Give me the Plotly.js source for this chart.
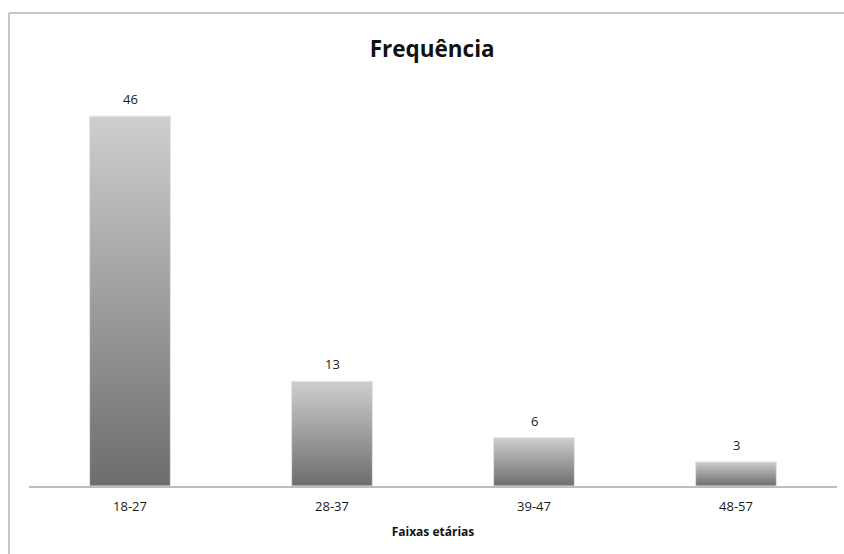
<!DOCTYPE html>
<html>
<head>
<meta charset="utf-8">
<script src="https://cdn.plot.ly/plotly-3.0.1.min.js"></script>
<style>
html,body{margin:0;padding:0;background:#fff;}
#chart{width:844px;height:554px;}
</style>
</head>
<body>
<div id="chart"></div>
<script>
const categories = ["18-27", "28-37", "39-47", "48-57"];
const frequencia = [46, 13, 6, 3];
const chartTitle = "Frequência";
const xTitle = "Faixas etárias";

const FONT = "'Open Sans', 'DejaVu Sans', sans-serif";

const trace = {
  type: "bar",
  x: categories,
  y: frequencia,
  width: 0.4,
  marker: {color: "#9a9a9a", line: {color: "#e4e4e4", width: 1}},
  hoverinfo: "none"
};

const annotations = categories.map((c, i) => ({
  x: c, y: frequencia[i], xref: "x", yref: "y",
  text: String(frequencia[i]), showarrow: false,
  yanchor: "bottom", yshift: 6,
  font: {family: FONT, size: 13, color: "#1a1a1a"}
}));

const layout = {
  width: 844, height: 554,
  margin: {l: 29, r: 7, t: 84, b: 68},
  paper_bgcolor: "#fff", plot_bgcolor: "#fff",
  showlegend: false,
  title: {
    text: "<b>" + chartTitle + "</b>",
    x: 0.512, xanchor: "center", y: 1 - 49/554, yanchor: "middle",
    font: {family: FONT, size: 22.5, color: "#111"}
  },
  xaxis: {
    type: "category",
    showline: true, linecolor: "#bdbdbd", linewidth: 2,
    showgrid: false, zeroline: false,
    ticks: "outside", ticklen: 7, tickcolor: "rgba(0,0,0,0)",
    tickfont: {family: FONT, size: 13, color: "#1a1a1a"},
    title: {text: "<b>" + xTitle + "</b>", standoff: 14, font: {family: FONT, size: 12, color: "#111"}}
  },
  yaxis: {
    range: [0, 50], visible: false, showgrid: false, zeroline: false
  },
  annotations: annotations,
  shapes: [
    {type: "line", xref: "paper", yref: "paper", x0: -0.0248, x1: 1.1, y0: 1.1766, y1: 1.1766,
     line: {color: "#b4b4b4", width: 1.5}},
    {type: "line", xref: "paper", yref: "paper", x0: -0.0248, x1: -0.0248, y0: 1.1766, y1: -0.2,
     line: {color: "#b4b4b4", width: 1.5}}
  ]
};

Plotly.newPlot("chart", [trace], layout, {staticPlot: true, displayModeBar: false}).then(gd => {
  const svg = gd.querySelector("svg.main-svg");
  const ns = "http://www.w3.org/2000/svg";
  let defs = svg.querySelector("defs");
  if (!defs) { defs = document.createElementNS(ns, "defs"); svg.insertBefore(defs, svg.firstChild); }
  const grad = document.createElementNS(ns, "linearGradient");
  grad.setAttribute("id", "barGrad");
  grad.setAttribute("x1", "0"); grad.setAttribute("y1", "0");
  grad.setAttribute("x2", "0"); grad.setAttribute("y2", "1");
  [["0", "#cecece"], ["1", "#6d6d6d"]].forEach(([o, c]) => {
    const s = document.createElementNS(ns, "stop");
    s.setAttribute("offset", o); s.setAttribute("stop-color", c);
    grad.appendChild(s);
  });
  defs.appendChild(grad);
  gd.querySelectorAll(".barlayer .point path").forEach(p => {
    p.style.fill = "url(#barGrad)";
  });
});
</script>
</body>
</html>
